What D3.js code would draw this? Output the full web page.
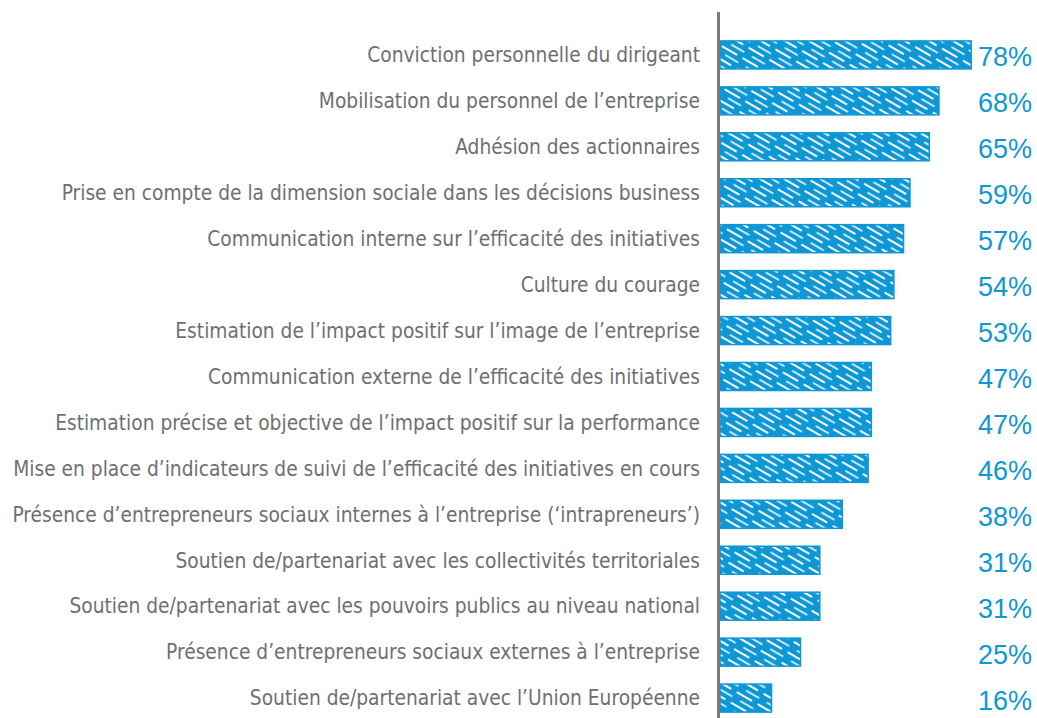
<!DOCTYPE html>
<html>
<head>
<meta charset="utf-8">
<script src="https://cdn.jsdelivr.net/npm/d3@7"></script>
<style>
  body { margin: 0; background: #fff; }
  svg { display: block; }
</style>
</head>
<body>
<svg id="chart"></svg>
<script>
// chart data
const categories = [
  "Conviction personnelle du dirigeant",
  "Mobilisation du personnel de l’entreprise",
  "Adhésion des actionnaires",
  "Prise en compte de la dimension sociale dans les décisions business",
  "Communication interne sur l’efficacité des initiatives",
  "Culture du courage",
  "Estimation de l’impact positif sur l’image de l’entreprise",
  "Communication externe de l’efficacité des initiatives",
  "Estimation précise et objective de l’impact positif sur la performance",
  "Mise en place d’indicateurs de suivi de l’efficacité des initiatives en cours",
  "Présence d’entrepreneurs sociaux internes à l’entreprise (‘intrapreneurs’)",
  "Soutien de/partenariat avec les collectivités territoriales",
  "Soutien de/partenariat avec les pouvoirs publics au niveau national",
  "Présence d’entrepreneurs sociaux externes à l’entreprise",
  "Soutien de/partenariat avec l’Union Européenne"
];
const values = [78, 68, 65, 59, 57, 54, 53, 47, 47, 46, 38, 31, 31, 25, 16];

const width = 1037;
const height = 718;
const blue = "#0e97d5";
const gray = "#6f6f72";

const svg = d3.select("#chart").attr("width", width).attr("height", height);

// hatch pattern: white slanted strokes over blue
const defs = svg.append("defs");
const pat = defs.append("pattern")
  .attr("id", "hatch")
  .attr("patternUnits", "userSpaceOnUse")
  .attr("width", 24)
  .attr("height", 12)
  .attr("patternTransform", "rotate(30)");
pat.append("rect").attr("width", 24).attr("height", 12).attr("fill", blue);
pat.append("line")
  .attr("x1", 1).attr("y1", 3).attr("x2", 17).attr("y2", 3)
  .attr("stroke", "#fff").attr("stroke-width", 2).attr("stroke-linecap", "round");
pat.append("line")
  .attr("x1", 8).attr("y1", 9).attr("x2", 22).attr("y2", 9)
  .attr("stroke", "#fff").attr("stroke-width", 1.5).attr("stroke-linecap", "round");

const x = d3.scaleLinear().domain([0, 100]).range([720, 1042]);
const y = d3.scaleBand().domain(categories).range([23, 730]).padding(0.39);

// bars
svg.selectAll(".bar")
  .data(values)
  .enter()
  .append("rect")
  .attr("class", "bar")
  .attr("x", x(0))
  .attr("y", (d, i) => y(categories[i]))
  .attr("width", (d) => x(d) - x(0))
  .attr("height", y.bandwidth())
  .attr("fill", "url(#hatch)")
  .attr("stroke", blue)
  .attr("stroke-width", 1.5);

// category labels
const labels = svg.selectAll(".label")
  .data(categories)
  .enter()
  .append("text")
  .attr("class", "label")
  .attr("x", 700)
  .attr("y", (d) => y(d) + y.bandwidth() / 2)
  .attr("dy", "0.35em")
  .attr("text-anchor", "end")
  .attr("fill", gray)
  .style("font-family", "'Liberation Sans Narrow', 'DejaVu Sans Condensed', 'Liberation Sans', sans-serif")
  .style("font-size", "21px")
  .text((d) => d);

// shrink font so the longest label fits the space on the left
let maxLen = 0;
labels.each(function () { maxLen = Math.max(maxLen, this.getComputedTextLength()); });
if (maxLen > 0) {
  const fs = Math.min(22, 21 * 688 / maxLen);
  labels.style("font-size", fs + "px");
}

// value labels
svg.selectAll(".value")
  .data(values)
  .enter()
  .append("text")
  .attr("class", "value")
  .attr("x", 1032)
  .attr("y", (d, i) => y(categories[i]) + y.bandwidth() / 2 + 2)
  .attr("dy", "0.35em")
  .attr("text-anchor", "end")
  .attr("fill", blue)
  .style("font-family", "'Liberation Sans', sans-serif")
  .style("font-size", "27px")
  .text((d) => d + "%");

// vertical axis line
svg.append("line")
  .attr("x1", 718.5).attr("x2", 718.5)
  .attr("y1", 12).attr("y2", height)
  .attr("stroke", "#7b7b7d")
  .attr("stroke-width", 3);
</script>
</body>
</html>
